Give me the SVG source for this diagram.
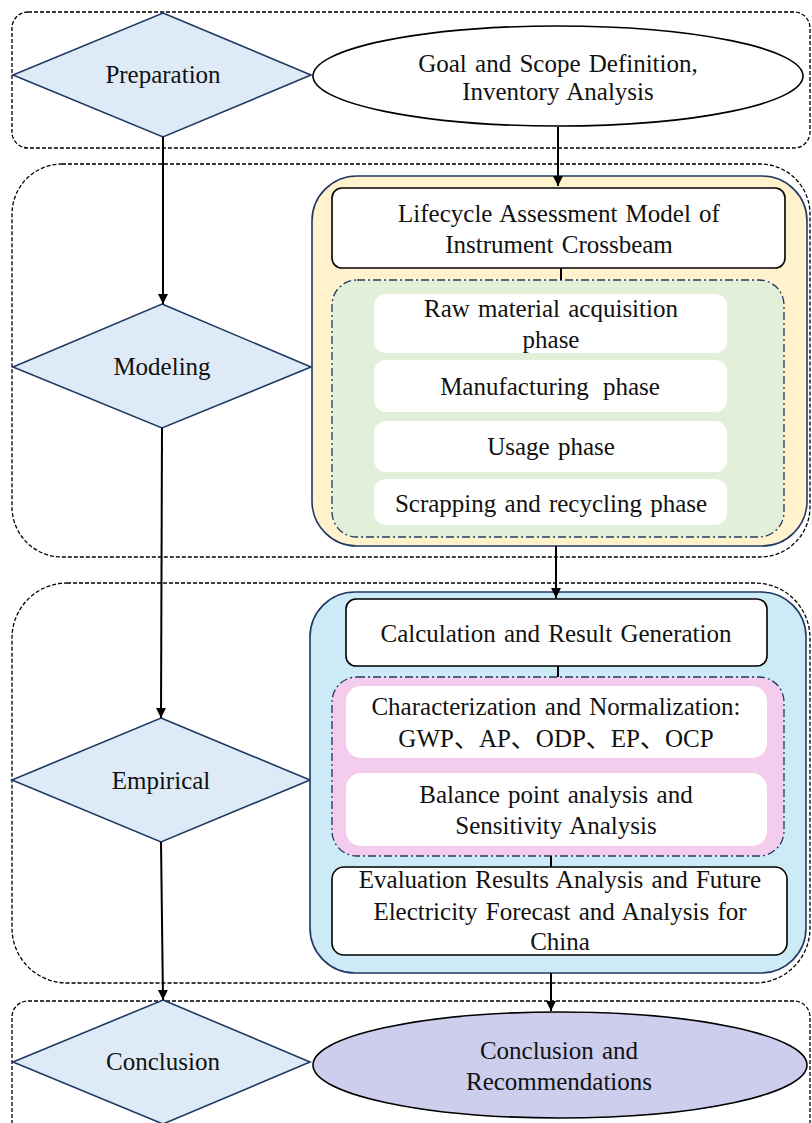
<svg xmlns="http://www.w3.org/2000/svg" width="812" height="1123" viewBox="0 0 812 1123">
<defs>
<marker id="arr" viewBox="0 0 10 10" refX="10" refY="5" markerWidth="5" markerHeight="5" markerUnits="strokeWidth" orient="auto">
<path d="M0,0 L10,5 L0,10 z" fill="#000"/>
</marker>
<style>
.grp{fill:none;stroke:#000;stroke-width:1.3;stroke-dasharray:4 2}
.dia{fill:#DEEBF7;stroke:#203864;stroke-width:1.6}
.panel{stroke:#203864;stroke-width:1.6}
.sub{stroke:#203864;stroke-width:1.3;stroke-dasharray:8 3 2 3}
.box{fill:#fff;stroke:#000;stroke-width:1.6}
.wbox{fill:#fff;stroke:none}
.con{stroke:#000;stroke-width:2;fill:none}
text{font-family:"Liberation Serif","Times New Roman","Noto Sans CJK SC",serif;font-size:25px;fill:#111;text-anchor:middle;word-spacing:2px}
</style>
</defs>

<g id="groups">
<rect class="grp" x="12" y="12" width="798" height="136" rx="16"/>
<rect class="grp" x="12" y="164" width="798" height="393" rx="50"/>
<rect class="grp" x="12" y="583" width="798" height="400" rx="55"/>
<rect class="grp" x="12" y="1001" width="798" height="140" rx="16"/>
</g>

<g id="preparation">
<polygon class="dia" points="163,13 311,75 163,137 13,75"/>
<text x="163" y="83">Preparation</text>
</g>

<g id="goal">
<ellipse cx="558" cy="76" rx="245" ry="50" fill="#fff" stroke="#000" stroke-width="1.6"/>
<text x="558" y="72">Goal and Scope Definition,</text>
<text x="558" y="100">Inventory Analysis</text>
</g>

<g id="modeling">
<polygon class="dia" points="162,304 311,367 162,428 13,367"/>
<text x="162" y="375">Modeling</text>
</g>

<g id="modeling-panel">
<rect class="panel" x="312" y="176" width="495" height="370" rx="45" fill="#FFF2CC"/>
<rect class="box" x="332" y="188" width="453" height="80" rx="10"/>
<text x="559" y="222">Lifecycle Assessment Model of</text>
<text x="559" y="253">Instrument Crossbeam</text>
<rect class="sub" x="332" y="280" width="452" height="257" rx="25" fill="#E2F0D9"/>
<rect class="wbox" x="374" y="294" width="353" height="59" rx="12"/>
<text x="551" y="317">Raw material acquisition</text>
<text x="551" y="348">phase</text>
<rect class="wbox" x="374" y="360" width="353" height="52" rx="12"/>
<text x="550" y="395" style="word-spacing:8px">Manufacturing phase</text>
<rect class="wbox" x="374" y="421" width="353" height="51" rx="12"/>
<text x="551" y="455">Usage phase</text>
<rect class="wbox" x="374" y="479" width="353" height="46" rx="12"/>
<text x="551" y="512">Scrapping and recycling phase</text>
</g>

<g id="empirical">
<polygon class="dia" points="161,718 310,780 161,842 12,780"/>
<text x="161" y="789">Empirical</text>
</g>

<g id="empirical-panel">
<rect class="panel" x="310" y="592" width="496" height="381" rx="45" fill="#CCEBF6"/>
<rect class="box" x="346" y="599" width="421" height="67" rx="10"/>
<text x="556" y="642">Calculation and Result Generation</text>
<rect class="sub" x="332" y="677" width="452" height="179" rx="25" fill="#F4CCEE"/>
<rect class="wbox" x="346" y="686" width="421" height="72" rx="15"/>
<text x="556" y="715">Characterization and Normalization:</text>
<text x="556" y="747">GWP、AP、ODP、EP、OCP</text>
<rect class="wbox" x="346" y="773" width="421" height="73" rx="15"/>
<text x="556" y="803">Balance point analysis and</text>
<text x="556" y="834">Sensitivity Analysis</text>
<rect class="box" x="332" y="867" width="455" height="88" rx="12"/>
<text x="560" y="888">Evaluation Results Analysis and Future</text>
<text x="560" y="920">Electricity Forecast and Analysis for</text>
<text x="560" y="950">China</text>
</g>

<g id="conclusion">
<polygon class="dia" points="163,1000 310,1062 163,1124 13,1062"/>
<text x="163" y="1070">Conclusion</text>
</g>

<g id="recommendations">
<ellipse cx="560" cy="1065" rx="247" ry="53" fill="#CDCDEE" stroke="#000" stroke-width="1.6"/>
<text x="559" y="1059">Conclusion and</text>
<text x="559" y="1090">Recommendations</text>
</g>

<g id="connectors">
<line class="con" x1="558" y1="127" x2="558" y2="186" marker-end="url(#arr)"/>
<line class="con" x1="163" y1="137" x2="163" y2="304" marker-end="url(#arr)"/>
<line class="con" x1="561" y1="268" x2="561" y2="280"/>
<line class="con" x1="556" y1="546" x2="556" y2="598" marker-end="url(#arr)"/>
<line class="con" x1="162" y1="428" x2="161" y2="718" marker-end="url(#arr)"/>
<line class="con" x1="558" y1="666" x2="558" y2="677"/>
<line class="con" x1="551" y1="856" x2="551" y2="867"/>
<line class="con" x1="551" y1="973" x2="551" y2="1011" marker-end="url(#arr)"/>
<line class="con" x1="161" y1="842" x2="163" y2="1000" marker-end="url(#arr)"/>
</g>
</svg>
